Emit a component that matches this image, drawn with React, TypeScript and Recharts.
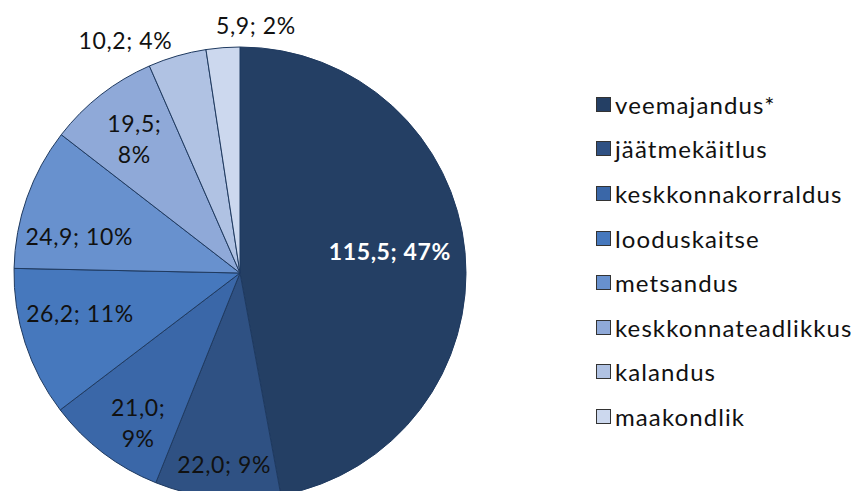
import { PieChart, Pie, Cell, Legend } from "recharts";

const NAMES = [
  "veemajandus*",
  "jäätmekäitlus",
  "keskkonnakorraldus",
  "looduskaitse",
  "metsandus",
  "keskkonnateadlikkus",
  "kalandus",
  "maakondlik",
];
const VALUES = [115.5, 22.0, 21.0, 26.2, 24.9, 19.5, 10.2, 5.9];
const PERCENTS = [47, 9, 9, 11, 10, 8, 4, 2];

const COLORS = [
  "#243f64", "#2f5183", "#3a67a8", "#4678bd",
  "#6891ce", "#8fa9d8", "#b0c2e3", "#ccd8ee",
];

// label placement: radius factor (relative to outer radius), angle nudge in degrees, split into 2 lines
const LABEL_R = [0.67, 0.85, 0.8, 0.73, 0.73, 0.76, 1.15, 1.1];
const LABEL_NUDGE = [3, 1, 3, -4, 6.5, 0, 10, -8];
const LABEL_SPLIT = [false, false, true, false, false, true, false, false];

const FONT = "Lato, 'Open Sans', sans-serif";

const data = NAMES.map((name, i) => ({ name, value: VALUES[i], pct: PERCENTS[i] }));

const fmt = (v: number) => v.toFixed(1).replace(".", ",");

function renderLabel(props: any) {
  const { cx, cy, midAngle, outerRadius, index } = props;
  const a = ((midAngle + LABEL_NUDGE[index]) * Math.PI) / 180;
  const r = outerRadius * LABEL_R[index];
  const x = cx + r * Math.cos(a);
  const y = cy - r * Math.sin(a);
  const d = data[index];
  const fill = index === 0 ? "#ffffff" : "#111111";
  const style = {
    fontFamily: FONT,
    fontSize: 23,
    fontWeight: index === 0 ? 700 : 400,
    letterSpacing: 0.6,
  };
  if (LABEL_SPLIT[index]) {
    return (
      <text x={x} y={y} fill={fill} textAnchor="middle" style={style}>
        <tspan x={x} dy={-6}>{`${fmt(d.value)};`}</tspan>
        <tspan x={x} dy={31}>{`${d.pct}%`}</tspan>
      </text>
    );
  }
  return (
    <text x={x} y={y} fill={fill} textAnchor="middle" dominantBaseline="central" style={style}>
      {`${fmt(d.value)}; ${d.pct}%`}
    </text>
  );
}

function LegendContent() {
  return (
    <div style={{ fontFamily: FONT }}>
      {data.map((d, i) => (
        <div
          key={d.name}
          style={{ display: "flex", alignItems: "center", height: 44.6 }}
        >
          <div
            style={{
              width: 15,
              height: 15,
              background: COLORS[i],
              border: "1px solid #333",
              marginRight: 4,
              boxSizing: "border-box",
            }}
          />
          <span style={{ fontSize: 24, color: "#111", letterSpacing: 1.1 }}>{d.name}</span>
        </div>
      ))}
    </div>
  );
}

export default function App() {
  return (
    <div style={{ margin: -8, background: "#fff", width: 859, height: 499 }}>
      <PieChart width={859} height={499} margin={{ top: 0, right: 0, bottom: 0, left: 0 }}>
        <Pie
          data={data}
          dataKey="value"
          nameKey="name"
          cx={240}
          cy={273}
          outerRadius={226}
          startAngle={90}
          endAngle={-270}
          stroke="#1f3a60"
          strokeWidth={1}
          label={renderLabel}
          labelLine={false}
          isAnimationActive={false}
        >
          {data.map((_, i) => (
            <Cell key={i} fill={COLORS[i]} />
          ))}
        </Pie>
        <Legend
          layout="vertical"
          verticalAlign="top"
          align="right"
          content={<LegendContent />}
          wrapperStyle={{ left: 596, top: 82, width: 262 }}
        />
      </PieChart>
    </div>
  );
}
